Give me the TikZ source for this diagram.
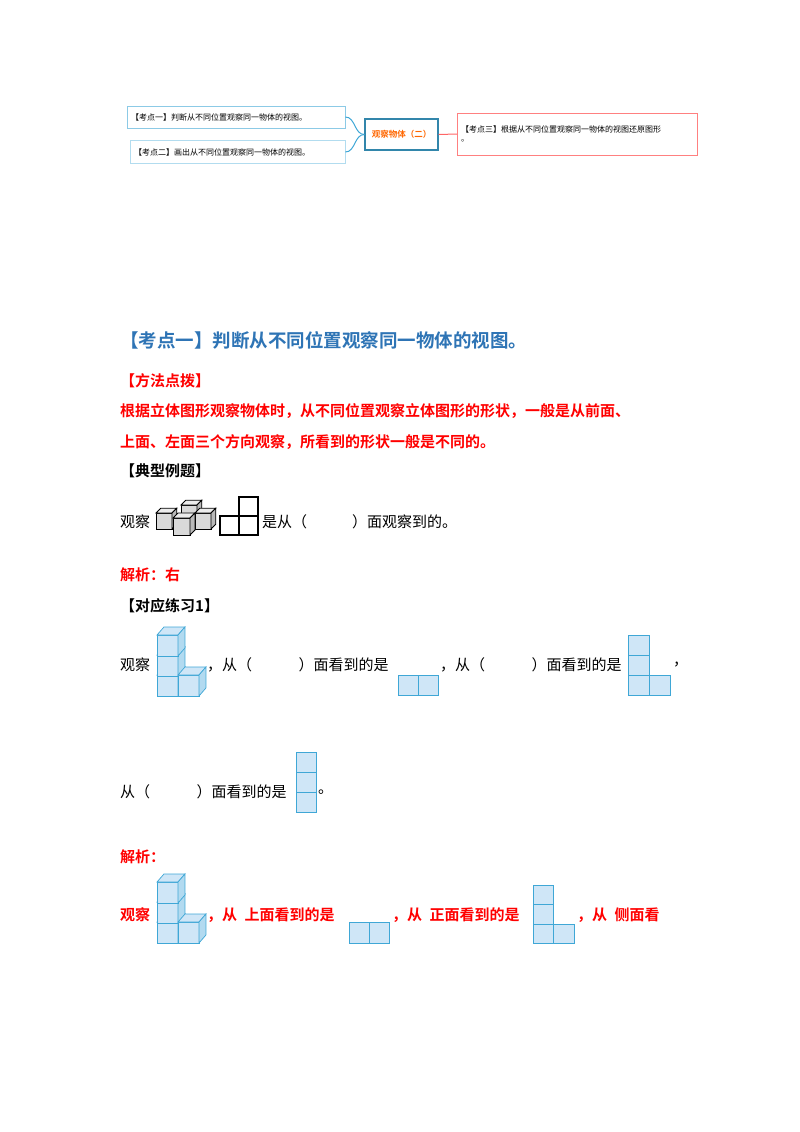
\documentclass[tikz,border=0pt]{standalone}
\usepackage{fontspec}
\setmainfont{Noto Sans CJK SC}
\newfontfamily\cjkb{Noto Sans CJK SC Bold}
\definecolor{cb}{HTML}{CFE6F7}
\definecolor{ce}{HTML}{3FA7D6}
\definecolor{hb}{HTML}{2E74B5}
\definecolor{rr}{HTML}{FF0000}
\newcommand{\cubeA}[3]{%
  \fill[cb,draw=ce,line width=0.7pt] (#1,#2) rectangle ++(#3,#3);
  \fill[cb,draw=ce,line width=0.7pt] (#1,#2) -- ++(0.33*#3,-0.38*#3) -- ++(#3,0) -- ++(-0.33*#3,0.38*#3) -- cycle;
  \fill[cb!80!ce,draw=ce,line width=0.7pt] (#1+#3,#2) -- ++(0.33*#3,-0.38*#3) -- ++(0,#3) -- ++(-0.33*#3,0.38*#3) -- cycle;}
\newcommand{\cubeG}[3]{%
  \fill[gray!30,draw=black,line width=0.8pt] (#1,#2) rectangle ++(#3,#3);
  \fill[gray!15,draw=black,line width=0.8pt] (#1,#2) -- ++(0.3*#3,-0.3*#3) -- ++(#3,0) -- ++(-0.3*#3,0.3*#3) -- cycle;
  \fill[gray!55,draw=black,line width=0.8pt] (#1+#3,#2) -- ++(0.3*#3,-0.3*#3) -- ++(0,#3) -- ++(-0.3*#3,0.3*#3) -- cycle;}
\newcommand{\Lcubes}[2]{%
  \cubeA{#1}{#2}{21}\cubeA{#1}{#2-20}{21}\cubeA{#1}{#2-40}{21}\cubeA{#1+21}{#2}{21}}
\begin{document}
\begin{tikzpicture}[x=1pt,y=-1pt,
  t/.style={anchor=west,inner sep=0,font=\fontsize{15}{16}\selectfont},
  rb/.style={t,font=\fontsize{15}{16}\selectfont\cjkb,text=rr},
  bb/.style={t,font=\fontsize{15}{16}\selectfont\cjkb},
  cell/.style={fill=cb,draw=ce,line width=0.7pt},
  mm/.style={draw,inner sep=3pt,font=\fontsize{8}{9.5}\selectfont,anchor=west}]
\useasboundingbox (0,0) rectangle (800,1132);
% mind map
\node[mm,draw=ce!60,minimum width=218pt,minimum height=22pt,text width=210pt] (k1) at (127,117) {【考点一】判断从不同位置观察同一物体的视图。};
\node[mm,draw=ce!40,minimum width=215pt,minimum height=23pt,text width=207pt] (k2) at (130,152) {【考点二】画出从不同位置观察同一物体的视图。};
\node[draw=ce!80!black,line width=1.3pt,minimum width=73pt,minimum height=31pt,text=orange!80!red,font=\fontsize{8.5}{10}\selectfont\cjkb] (c) at (401.5,134.5) {观察物体（二）};
\node[mm,draw=red!50,minimum width=240pt,minimum height=42pt,text width=232pt,align=left] (k3) at (457,134) {【考点三】根据从不同位置观察同一物体的视图还原图形\\。};
\draw[ce,line width=1pt] (k1.east) to[out=0,in=180] (c.west);
\draw[ce,line width=1pt] (k2.east) to[out=0,in=180] (c.west);
\draw[red!60,line width=1pt] (c.east) -- (k3.west);
% headings
\node[t,font=\fontsize{18.5}{20}\selectfont\cjkb,text=hb] (h1) at (120,340) {【考点一】判断从不同位置观察同一物体的视图。};
\node[rb] (m1) at (120,381) {【方法点拨】};
\node[rb] (m2) at (120,411) {根据立体图形观察物体时，从不同位置观察立体图形的形状，一般是从前面、};
\node[rb] (m3) at (120,442) {上面、左面三个方向观察，所看到的形状一般是不同的。};
\node[bb] (m4) at (120,471) {【典型例题】};
\node[t] (e1) at (120,522) {观察};
\cubeG{181}{505}{16}\cubeG{156}{513}{16}\cubeG{195}{513}{16}\cubeG{173}{518}{17}
\draw[line width=1.2pt] (239,497) rectangle (258,516) (220,516) rectangle (258,535) (239,516) -- (239,535);
\node[t] (e2) at (262,522) {是从（\hspace{3em}）面观察到的。};
\node[rb] (a1) at (120,575) {解析：右};
\node[bb] (p1) at (120,606) {【对应练习1】};
% row 1
\node[t] (r1) at (120,665) {观察};
\Lcubes{157}{675}
\node[t] (r2) at (207,665) {，从（\hspace{3.1em}）面看到的是};
\draw[cell] (398,675) rectangle (418,695) (418,675) rectangle (438,695);
\node[t] (r3) at (440,665) {，从（\hspace{3.1em}）面看到的是};
\draw[cell] (628,635) rectangle (649,655) (628,655) rectangle (649,675) (628,675) rectangle (649,695) (649,675) rectangle (670,695);
\node[t] (r4) at (673,665) {，};
\node[t] (r5) at (120,792) {从（\hspace{3.1em}）面看到的是};
\draw[cell] (296,752) rectangle (316,772) (296,772) rectangle (316,792) (296,792) rectangle (316,812);
\node[t] (r6) at (318,792) {。};
\node[rb] (a2) at (120,857) {解析：};
% row 2
\node[rb] (s1) at (120,915) {观察};
\Lcubes{157}{922}
\node[rb] (s2) at (207,915) {，从\hspace{0.5em}上面看到的是};
\draw[cell] (349,922) rectangle (369,943) (369,922) rectangle (389,943);
\node[rb] (s3) at (392,915) {，从\hspace{0.5em}正面看到的是};
\draw[cell] (533,885) rectangle (553,904) (533,904) rectangle (553,924) (533,924) rectangle (553,943) (553,924) rectangle (574,943);
\node[rb] (s4) at (577,915) {，从\hspace{0.5em}侧面看};
\end{tikzpicture}
\end{document}
